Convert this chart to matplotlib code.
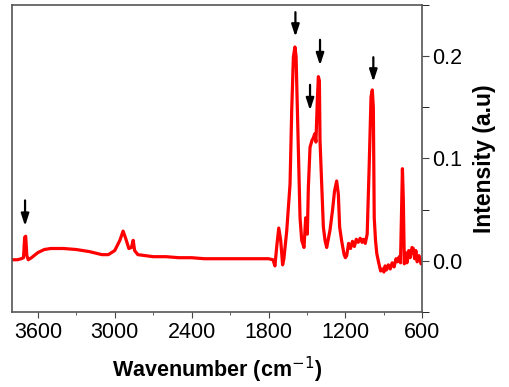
import matplotlib.pyplot as plt
from matplotlib.ticker import MultipleLocator

plt.rcParams['font.family'] = ['Liberation Sans', 'DejaVu Sans']

# IR spectrum (wavenumber in cm-1, intensity in a.u.)
wavenumber = [3800, 3760, 3730, 3712, 3703, 3695, 3686, 3675, 3650, 3600, 3550, 3500,
              3450, 3400, 3300, 3200, 3100, 3050, 3000, 2960, 2935, 2915, 2890, 2870,
              2856, 2845, 2820, 2700, 2600, 2500, 2400, 2300, 2200, 2100, 2000, 1900,
              1800, 1765, 1750, 1735, 1720, 1705, 1690, 1680, 1658, 1632, 1619, 1606,
              1594, 1585, 1575, 1567, 1554, 1541, 1523, 1510, 1497, 1489, 1476, 1460,
              1450, 1440, 1430, 1419, 1411, 1403, 1398, 1385, 1372, 1359, 1346, 1335,
              1320, 1300, 1285, 1268, 1255, 1245, 1230, 1210, 1200, 1190, 1175, 1160,
              1145, 1130, 1115, 1100, 1085, 1070, 1060, 1045, 1030, 1015, 1000, 990,
              982, 975, 965, 955, 940, 925, 910, 900, 890, 880, 865, 850, 835, 820,
              805, 795, 780, 770, 762, 755, 748, 740, 730, 720, 705, 695, 680, 670,
              660, 650, 640, 625, 610, 600]
intensity = [0.001, 0.001, 0.002, 0.003, 0.023, 0.024, 0.005, 0.001, 0.003, 0.008, 0.011, 0.012,
             0.012, 0.012, 0.011, 0.009, 0.006, 0.006, 0.010, 0.020, 0.029, 0.022, 0.012, 0.013,
             0.020, 0.010, 0.006, 0.004, 0.004, 0.003, 0.003, 0.002, 0.002, 0.002, 0.002, 0.002,
             0.002, 0.001, -0.005, 0.015, 0.032, 0.020, -0.004, 0.002, 0.029, 0.075, 0.147, 0.199,
             0.209, 0.200, 0.150, 0.108, 0.042, 0.020, 0.013, 0.042, 0.026, 0.072, 0.111, 0.118,
             0.120, 0.124, 0.116, 0.157, 0.180, 0.176, 0.117, 0.075, 0.033, 0.020, 0.013, 0.020,
             0.030, 0.050, 0.068, 0.078, 0.065, 0.033, 0.020, 0.006, 0.003, 0.005, 0.017, 0.012,
             0.019, 0.014, 0.021, 0.018, 0.022, 0.018, 0.021, 0.017, 0.026, 0.090, 0.160, 0.167,
             0.150, 0.042, 0.020, 0.007, -0.002, -0.010, -0.008, -0.011, -0.005, -0.009, -0.004, -0.008,
             -0.002, -0.006, 0.002, -0.001, 0.004, -0.002, 0.045, 0.090, 0.060, -0.003, 0.008, -0.002,
             0.010, 0.003, 0.013, 0.012, 0.002, 0.010, -0.001, 0.005, -0.003, -0.002]

# arrows marking the bands: (wavenumber, tail y, tip y)
arrow_x = [3700, 1590, 1476, 1398, 982]
arrow_tail = [0.059, 0.243, 0.172, 0.216, 0.199]
arrow_tip = [0.034, 0.219, 0.147, 0.191, 0.175]

fig = plt.figure(figsize=(5.1, 3.87), dpi=100)
ax = fig.add_axes([0.024, 0.194, 0.804, 0.793])

ax.plot(wavenumber, intensity, color='red', lw=2.3)

for x, t0, t1 in zip(arrow_x, arrow_tail, arrow_tip):
    ax.annotate('', xy=(x, t1), xytext=(x, t0),
                arrowprops=dict(arrowstyle='-|>,head_length=0.55,head_width=0.18',
                                color='black', lw=1.6, mutation_scale=13,
                                shrinkA=0, shrinkB=0))

ax.set_xlim(3800, 600)
ax.set_ylim(-0.05, 0.25)
ax.xaxis.set_major_locator(MultipleLocator(600))
ax.xaxis.set_minor_locator(MultipleLocator(300))
ax.yaxis.set_major_locator(MultipleLocator(0.1))
ax.yaxis.set_minor_locator(MultipleLocator(0.05))
ax.yaxis.set_major_formatter(plt.FormatStrFormatter('%.1f'))

ax.yaxis.tick_right()
ax.yaxis.set_label_position('right')
ax.tick_params(axis='both', which='major', direction='out', labelsize=15.5, color='#444444')
ax.tick_params(axis='y', which='both', left=False, right=True, length=5, pad=2)
ax.tick_params(axis='y', which='minor', length=5)
ax.tick_params(axis='x', which='major', length=4, pad=3)
ax.tick_params(axis='x', which='minor', length=2.5, color='#444444')

for s in ax.spines.values():
    s.set_color('#555555')
    s.set_linewidth(1.2)

ax.set_xlabel('Wavenumber (cm$^{-1}$)', fontsize=15.5, fontweight='bold', labelpad=9)
ax.set_ylabel('Intensity (a.u)', fontsize=16.5, fontweight='bold', labelpad=8)

fig.savefig('out.png', dpi=100)
